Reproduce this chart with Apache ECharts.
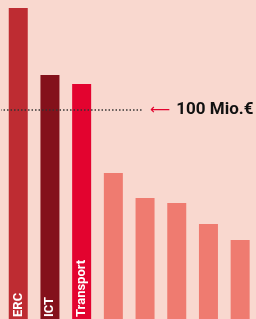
<!DOCTYPE html>
<html lang="de">
<head>
    <meta charset="UTF-8">
    <title>Budget</title>
    <script src="https://cdn.jsdelivr.net/npm/echarts@6/dist/echarts.min.js"></script>
    <style>
        html, body { margin: 0; padding: 0; background: #F9D8CF; }
        #main { width: 256px; height: 319px; }
    </style>
</head>
<body>
<div id="main"></div>
<script>
    // Daten
    var categories = ['ERC', 'ICT', 'Transport', 'A', 'B', 'C', 'D', 'E'];
    var labels = ['ERC', 'ICT', 'Transport', '', '', '', '', ''];
    var values = [148.8, 116.7, 112.4, 69.9, 57.9, 55.5, 45.5, 37.8];
    var colors = ['#BE2C32', '#84111B', '#E3032F', '#EF7B70', '#EF7B70', '#EF7B70', '#EF7B70', '#EF7B70'];
    var refValue = 100;
    var refText = '100 Mio.€';

    var chart = echarts.init(document.getElementById('main'));

    var barData = values.map(function (v, i) {
        return {
            value: v,
            itemStyle: { color: colors[i] },
            label: { show: labels[i] !== '', formatter: labels[i] }
        };
    });

    var option = {
        backgroundColor: '#F9D8CF',
        animation: false,
        grid: { left: 2.4, top: 0, width: 258.3, height: 319 },
        xAxis: [{
            type: 'category',
            data: categories,
            show: false
        }, {
            // Hilfsachse fuer die gepunktete Linie (Anteil der Bildbreite)
            type: 'value',
            min: 0.009375,
            max: 1.0184,
            show: false
        }],
        yAxis: {
            type: 'value',
            min: 0,
            max: 152.6,
            show: false
        },
        series: [{
            type: 'bar',
            data: barData,
            barWidth: 19,
            label: {
                position: 'insideBottom',
                rotate: 90,
                align: 'left',
                verticalAlign: 'middle',
                distance: 2,
                color: '#fff',
                fontFamily: 'Roboto',
                fontWeight: 'bold',
                fontSize: 13
            }
        }, {
            type: 'line',
            xAxisIndex: 1,
            data: [[0, refValue], [0.566, refValue]],
            symbol: 'none',
            lineStyle: { color: '#333', width: 1.5, type: [1.5, 2] },
            endLabel: {
                show: true,
                distance: 8,
                formatter: '{a|⟵}{b|' + refText + '}',
                rich: {
                    a: { color: '#E3032F', fontSize: 14, fontFamily: 'DejaVu Sans', padding: [0, 6, 0, 0] },
                    b: { color: '#111', fontSize: 17, fontWeight: 'bold', fontFamily: 'Roboto' }
                }
            },
            silent: true,
            z: 5
        }]
    };
    chart.setOption(option);
</script>
</body>
</html>
